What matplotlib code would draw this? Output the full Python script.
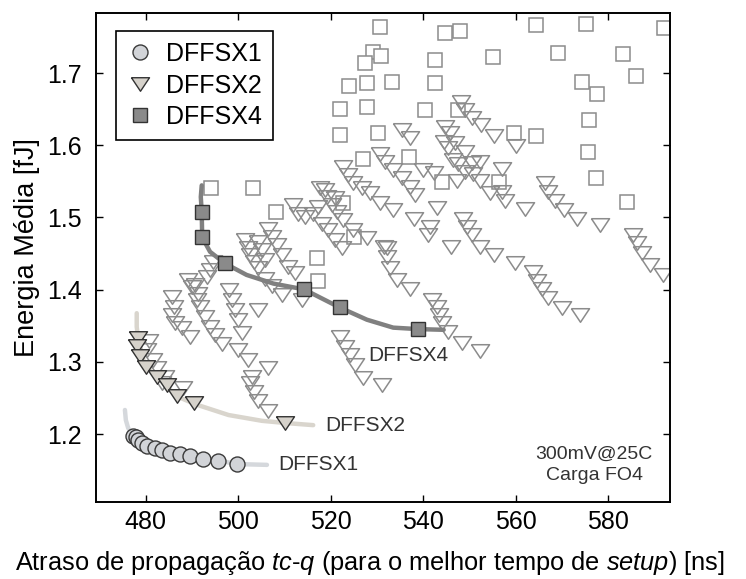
import matplotlib
matplotlib.use("Agg")
import matplotlib.pyplot as plt

plt.rcParams['font.family'] = ['Liberation Sans', 'DejaVu Sans']
plt.rcParams['mathtext.fontset'] = 'custom'
plt.rcParams['mathtext.rm'] = 'Liberation Sans'
plt.rcParams['mathtext.it'] = 'Liberation Sans:italic'

# ---------------- data ----------------
# Pareto sets (filled markers)
sx1_x = [477.3, 477.8, 478.4, 479.1, 480.2, 481.9, 483.5, 485.3, 487.4, 489.6, 492.4, 495.7, 499.7]
sx1_y = [1.1975, 1.1955, 1.1925, 1.1875, 1.1835, 1.1805, 1.1775, 1.1745, 1.1725, 1.1695, 1.1655, 1.1625, 1.1585]

sx2_x = [478.4, 478.2, 478.8, 480.0, 482.4, 484.5, 486.7, 490.4, 510.1]
sx2_y = [1.3325, 1.3225, 1.3085, 1.2935, 1.2795, 1.2685, 1.2525, 1.2435, 1.2155]

sx4_x = [492.1, 492.2, 497.1, 514.2, 521.9, 538.8]
sx4_y = [1.5075, 1.4725, 1.4365, 1.4005, 1.3755, 1.3455]

# Fitted curves
c1_x = [475.5, 475.7, 476.2, 477.3, 478.8, 482.0, 487.4, 493.9, 500.4, 506.2]
c1_y = [1.2335, 1.2195, 1.2085, 1.1975, 1.1875, 1.1795, 1.1715, 1.1645, 1.1585, 1.1575]

c2_x = [478.05, 478.05, 478.4, 479.8, 482.4, 486.7, 490.7, 497.9, 505.1, 510.1, 516.2]
c2_y = [1.3675, 1.3485, 1.3305, 1.2955, 1.2795, 1.2525, 1.2415, 1.2265, 1.2185, 1.2155, 1.2125]

c4_x = [492.1, 491.9, 492.1, 492.2, 493.9, 497.1, 501.8, 507.6, 514.2, 521.9, 527.8, 533.5, 538.8, 544.4]
c4_y = [1.5445, 1.5285, 1.5075, 1.4725, 1.4525, 1.4365, 1.4205, 1.4085, 1.4005, 1.3755, 1.3585, 1.3475,
        1.3455, 1.3445]

# All DFFSX2 configurations (open triangles)
tri_x = [548.1, 549.0, 550.5, 552.4, 555.3, 560.1, 544.7, 545.8, 544.5, 545.4, 546.9, 549.0, 546.5, 547.6,
         550.5, 552.3, 549.0, 550.8, 552.3, 554.4, 557.0, 557.0, 557.7, 547.2, 542.2, 540.0, 542.9, 562.0,
         566.3, 567.0, 568.5, 570.3, 573.3, 578.2, 548.5, 549.4, 550.5, 552.3, 555.2, 559.8, 545.9, 541.5,
         541.1, 563.8, 564.5, 565.6, 567.0, 569.9, 541.8, 542.9, 585.4, 586.2, 587.2, 589.0, 591.9, 573.8,
         531.4, 532.1, 532.8, 534.3, 537.1, 543.3, 544.0, 545.4, 548.3, 552.3, 531.0,
         518.8, 511.9, 513.0, 514.4, 516.2, 518.0, 519.5, 520.9, 506.5, 507.2, 508.3, 509.4, 510.8, 512.3,
         501.5, 502.2, 502.5, 503.3, 504.3, 505.8, 507.2, 509.4, 513.7, 494.6, 493.9, 493.2, 485.6, 486.0,
         485.6, 486.3, 487.8, 489.6, 490.7, 491.4, 491.0, 491.7, 492.8, 493.9, 495.0, 496.4, 497.9, 498.6,
         499.3, 500.0, 500.8, 500.0, 504.3, 480.6, 480.2, 481.6, 482.4, 484.2, 483.5, 488.1, 502.2, 502.9,
         502.5, 503.3, 504.3, 506.5, 506.5,
         535.3, 537.1, 530.7, 531.7, 533.5, 535.3, 537.1, 538.2, 522.7, 523.8, 524.9, 526.7, 528.5, 530.7,
         533.5, 537.9, 517.7, 519.1, 520.2, 521.3, 522.7, 524.9, 527.8, 532.1,
         522.0, 523.1, 524.2, 525.3, 527.0,
         517.3, 520.9, 522.4, 504.3, 505.2, 505.8, 489.1, 490.0]
tri_y = [1.6595, 1.6495, 1.6375, 1.6275, 1.6135, 1.5985, 1.6255, 1.6175, 1.6045, 1.5965, 1.6035, 1.5905,
         1.5795, 1.5735,
         1.5755, 1.5775, 1.5635, 1.5605, 1.5505, 1.5335, 1.5665, 1.5355, 1.5225, 1.5505, 1.5615, 1.5655,
         1.5135, 1.5115,
         1.5475, 1.5355, 1.5225, 1.5105, 1.4985, 1.4895, 1.4975, 1.4875, 1.4755, 1.4595, 1.4475, 1.4365,
         1.4595, 1.4875,
         1.4755, 1.4245, 1.4115, 1.4005, 1.3885, 1.3745, 1.3855, 1.3765, 1.4755, 1.4645, 1.4505, 1.4345,
         1.4205, 1.3645,
         1.4595, 1.4455, 1.4295, 1.4135, 1.4015, 1.3645, 1.3545, 1.3415, 1.3265, 1.3155, 1.2685,
         1.5375, 1.5175, 1.5055, 1.5005, 1.5055, 1.4915, 1.4825, 1.4685, 1.4845, 1.4735, 1.4615, 1.4475,
         1.4315, 1.4225,
         1.4685, 1.4575, 1.4475, 1.4385, 1.4295, 1.4155, 1.4045, 1.3925, 1.3855, 1.4385, 1.4275, 1.4175,
         1.3905, 1.3765,
         1.3645, 1.3535, 1.3465, 1.3345, 1.4065, 1.3945, 1.3855, 1.3765, 1.3625, 1.3485, 1.3375, 1.3255,
         1.3995, 1.3855,
         1.3715, 1.3585, 1.3395, 1.3165, 1.3715, 1.3285, 1.3165, 1.3025, 1.2915, 1.2795, 1.2705, 1.2635,
         1.3025, 1.2795,
         1.2705, 1.2585, 1.2455, 1.2315, 1.2915,
         1.6205, 1.6095, 1.5885, 1.5765, 1.5655, 1.5545, 1.5425, 1.5305, 1.5705, 1.5585, 1.5475, 1.5405,
         1.5335, 1.5195,
         1.5105, 1.4985, 1.5405, 1.5285, 1.5175, 1.5075, 1.4965, 1.4825, 1.4715, 1.4575,
         1.3348, 1.3209, 1.3098, 1.2960, 1.2780,
         1.5148, 1.5273, 1.4579, 1.4663, 1.4553, 1.4413, 1.4136, 1.4039]

# All DFFSX4 configurations (open squares)
sq_x = [530.7, 544.7, 548.0, 564.4, 575.1, 592.1, 529.2, 530.8, 527.4, 542.5, 555.0, 569.2, 583.1,
        524.0, 527.8, 533.2, 542.5, 574.4, 586.0, 577.5, 522.0, 527.8, 540.4, 547.4, 575.9, 522.0,
        530.1, 559.5, 564.4, 575.5, 527.0, 537.0, 544.0, 556.4, 577.4, 584.0, 494.1, 503.1, 522.7,
        508.1, 525.0, 517.1, 517.2]
sq_y = [1.7635, 1.7555, 1.7585, 1.7665, 1.7675, 1.7625, 1.7295, 1.7235, 1.7145, 1.7185, 1.7225, 1.7275,
        1.7265,
        1.6815, 1.6865, 1.6875, 1.6865, 1.6875, 1.6955, 1.6705, 1.6505, 1.6535, 1.6495, 1.6495, 1.6345,
        1.6145,
        1.6175, 1.6175, 1.6135, 1.5905, 1.5805, 1.5835, 1.5495, 1.5495, 1.5545, 1.5215, 1.5415, 1.5405,
        1.5195,
        1.5075, 1.4725, 1.4445, 1.4115]

x_ticks = [480, 500, 520, 540, 560, 580]
y_ticks = [1.2, 1.3, 1.4, 1.5, 1.6, 1.7]
x_lim = (469.25, 593.3)
y_lim = (1.1065, 1.7835)

# ---------------- figure ----------------
fig = plt.figure(figsize=(7.46, 5.79), dpi=100)
ax = fig.add_axes([0.1287, 0.1335, 0.7693, 0.8445])

tri_marker = [(-1, 0.75), (1, 0.75), (0, -0.75), (-1, 0.75)]
open_col = '#8c8c8c'

ax.plot(sq_x, sq_y, ls='none', marker='s', ms=9.5, mfc='white', mec=open_col, mew=1.1, zorder=2)
ax.plot(tri_x, tri_y, ls='none', marker=tri_marker, ms=13, mfc='none', mec=open_col, mew=1.1, zorder=2)

ax.plot(c1_x, c1_y, color='#d5d8dc', lw=3.2, solid_capstyle='round', zorder=3)
ax.plot(c2_x, c2_y, color='#d9d5cd', lw=3.2, solid_capstyle='round', zorder=3)
ax.plot(c4_x, c4_y, color='#808080', lw=3.2, solid_capstyle='round', zorder=3)

ax.plot(sx1_x, sx1_y, ls='none', marker='o', ms=10.8, mfc='#d2d4d8', mec='#3a3a3a', mew=1.0, zorder=4,
        label='DFFSX1')
ax.plot(sx2_x, sx2_y, ls='none', marker=tri_marker, ms=13, mfc='#d6d2cb', mec='#333333', mew=1.0, zorder=4,
        label='DFFSX2')
ax.plot(sx4_x, sx4_y, ls='none', marker='s', ms=9.5, mfc='#8a8a8a', mec='#333333', mew=1.0, zorder=4,
        label='DFFSX4')

txt_col = '#333333'
ax.text(508.6, 1.1575, 'DFFSX1', fontsize=15, color=txt_col, ha='left', va='center')
ax.text(518.8, 1.2125, 'DFFSX2', fontsize=15, color=txt_col, ha='left', va='center')
ax.text(528.1, 1.3095, 'DFFSX4', fontsize=15, color=txt_col, ha='left', va='center')
ax.text(576.9, 1.1575, '300mV@25C\nCarga FO4', fontsize=14, color=txt_col, ha='center', va='center',
        linespacing=1.35)

ax.set_xlim(*x_lim)
ax.set_ylim(*y_lim)
ax.set_xticks(x_ticks)
ax.set_yticks(y_ticks)
ax.set_yticklabels([f'{v:.1f}' for v in y_ticks])
ax.tick_params(direction='in', length=5, width=1.0, top=True, right=True, labelsize=18, color='black')
ax.tick_params(axis='x', pad=6)
ax.tick_params(axis='y', pad=10)
for s in ax.spines.values():
    s.set_linewidth(1.4)

ax.set_xlabel(r'Atraso de propagação $\mathit{tc}$-$\mathit{q}$ (para o melhor tempo de $\mathit{setup}$) [ns]',
              fontsize=18.3)
ax.xaxis.set_label_coords(0.477, -0.097)
ax.set_ylabel('Energia Média [fJ]', fontsize=19.5)
ax.yaxis.set_label_coords(-0.097, 0.52)

leg = ax.legend(loc='upper left', bbox_to_anchor=(0.034, 0.963), borderaxespad=0, fontsize=18,
                frameon=True, fancybox=False, edgecolor='black', framealpha=1, labelspacing=0.3,
                borderpad=0.45, handlelength=1.02, handletextpad=0.56, numpoints=1)
leg.get_frame().set_linewidth(1.2)

fig.savefig('out.png', dpi=100)
